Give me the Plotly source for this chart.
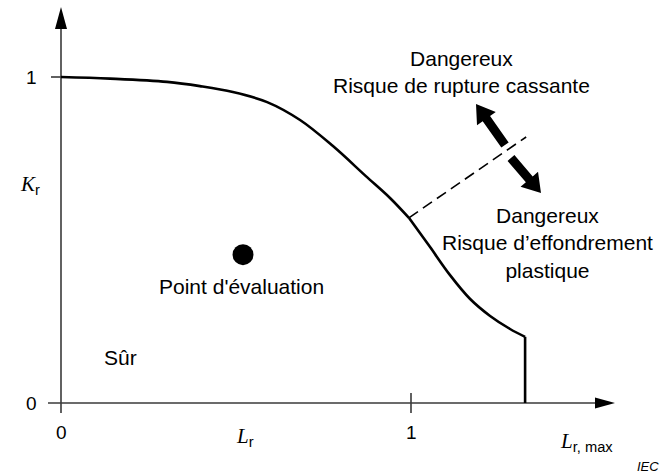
import numpy as np
import plotly.graph_objects as go

# Failure assessment curve (Lr, Kr) - upper branch up to Lr = 1
upper_lr = [0.0, 0.14, 0.303, 0.397, 0.491, 0.589, 0.683, 0.777, 0.871, 0.940, 0.994]
upper_kr = [1.0, 0.995, 0.985, 0.972, 0.954, 0.923, 0.868, 0.788, 0.696, 0.629, 0.568]
# lower branch, from Lr = 1 to the cut-off Lr,max
lower_lr = [0.994, 1.054, 1.111, 1.169, 1.226, 1.283, 1.326]
lower_kr = [0.568, 0.479, 0.393, 0.319, 0.267, 0.227, 0.203]
lr_max = 1.326

# Dashed extension of the brittle-fracture boundary
dash_lr = [0.994, 1.329]
dash_kr = [0.568, 0.816]

# Assessment point
point_lr = [0.52]
point_kr = [0.455]

# Axis tick values
tick_vals = [0, 1]
tick_text = ["0", "1"]

# Figure geometry (pixels per unit on each axis, axis origin offset)
W, H = 662, 475
PX_X, PX_Y = 350.0, 326.0
ORIG_X, ORIG_Y = 61.0, 403.0
x_range = [-ORIG_X / PX_X, (W - ORIG_X) / PX_X]
y_range = [-(H - ORIG_Y) / PX_Y, ORIG_Y / PX_Y]


def to_px(x, y):
    return ORIG_X + x * PX_X, ORIG_Y - y * PX_Y


def to_data(px, py):
    return (px - ORIG_X) / PX_X, (ORIG_Y - py) / PX_Y


def arrow_path(tail, tip, shaft_half, head_half, head_len):
    """Closed SVG path (in data units) for a filled block arrow."""
    tx, ty = to_px(*tail)
    hx, hy = to_px(*tip)
    d = np.array([hx - tx, hy - ty])
    L = np.hypot(*d)
    u = d / L
    n = np.array([-u[1], u[0]])
    t = np.array([tx, ty])
    b = t + u * (L - head_len)
    pts = [t + n * shaft_half, b + n * shaft_half, b + n * head_half, np.array([hx, hy]),
           b - n * head_half, b - n * shaft_half, t - n * shaft_half]
    pts = [to_data(*p) for p in pts]
    return "M" + " L".join(f"{x:.5f},{y:.5f}" for x, y in pts) + " Z"


fig = go.Figure()

axis_col = "#3a3a3a"
x_end = to_data(615, 0)[0]
y_end = to_data(0, 7)[1]
x_start = to_data(48, 0)[0]
y_start = to_data(0, 413)[1]

# Axis lines
fig.add_trace(go.Scatter(x=[x_start, x_end - 10 / PX_X], y=[0, 0], mode="lines",
                         line=dict(color=axis_col, width=1.6), hoverinfo="skip"))
fig.add_trace(go.Scatter(x=[0, 0], y=[y_start, y_end - 10 / PX_Y], mode="lines",
                         line=dict(color=axis_col, width=1.6), hoverinfo="skip"))
# Tick marks
tick_len_x = 10 / PX_Y
fig.add_trace(go.Scatter(x=[tick_vals[1], tick_vals[1]], y=[-tick_len_x, tick_len_x], mode="lines",
                         line=dict(color=axis_col, width=1.6), hoverinfo="skip"))
fig.add_trace(go.Scatter(x=[-10 / PX_X, 0], y=[tick_vals[1], tick_vals[1]], mode="lines",
                         line=dict(color=axis_col, width=1.6), hoverinfo="skip"))

# Curve
curve_line = dict(color="black", width=2.6, shape="spline", smoothing=1.0)
fig.add_trace(go.Scatter(x=upper_lr, y=upper_kr, mode="lines", line=curve_line, hoverinfo="skip"))
fig.add_trace(go.Scatter(x=lower_lr, y=lower_kr, mode="lines", line=curve_line, hoverinfo="skip"))
fig.add_trace(go.Scatter(x=[lr_max, lr_max], y=[lower_kr[-1], 0], mode="lines",
                         line=dict(color="black", width=2.6), hoverinfo="skip"))

# Dashed line
fig.add_trace(go.Scatter(x=dash_lr, y=dash_kr, mode="lines",
                         line=dict(color="black", width=1.6, dash="11px,6px"), hoverinfo="skip"))

# Assessment point
fig.add_trace(go.Scatter(x=point_lr, y=point_kr, mode="markers",
                         marker=dict(color="black", size=21), hoverinfo="skip"))

shapes = []
# Axis arrowheads
shapes.append(dict(type="path", path=arrow_path((x_end - 20 / PX_X, 0), (x_end, 0), 0, 5.5, 20),
                   fillcolor="black", line=dict(width=0), xref="x", yref="y"))
shapes.append(dict(type="path", path=arrow_path((0, y_end - 22 / PX_Y), (0, y_end), 0, 6, 22),
                   fillcolor="black", line=dict(width=0), xref="x", yref="y"))
# Double block arrow across the dashed line
shapes.append(dict(type="path", path=arrow_path(to_data(505, 145), to_data(476, 104), 4.5, 11.5, 18),
                   fillcolor="black", line=dict(width=0), xref="x", yref="y"))
shapes.append(dict(type="path", path=arrow_path(to_data(511, 158), to_data(541, 193), 4.5, 11.5, 18),
                   fillcolor="black", line=dict(width=0), xref="x", yref="y"))

SANS = "Liberation Sans, Arial, sans-serif"
SERIF = "Liberation Serif, Times New Roman, serif"
txt = dict(family=SANS, size=21, color="black")
tick_font = dict(family=SANS, size=19, color="black")


def note(x, y, text, font, **kw):
    fig.add_annotation(x=x, y=y, text=text, showarrow=False, font=font, xref="x", yref="y", **kw)


note(1.143, 1.014, "Dangereux<br>Risque de rupture cassante", txt)
note(1.389, 0.492, "Dangereux<br>Risque d\u2019effondrement<br>plastique", txt)
note(0.517, 0.357, "Point d'évaluation", txt)
note(0.171, 0.141, "Sûr", txt)

# Tick labels
note(-0.083, 0, tick_text[0], tick_font)
note(-0.083, 1, tick_text[1], tick_font)
note(0, -0.092, tick_text[0], tick_font)
note(1, -0.092, tick_text[1], tick_font)

# Axis titles
it = lambda s: f"<span style='font-family:{SERIF}'><i>{s}</i></span>"
note(-0.088, 0.669, it("K") + "<sub>r</sub>", dict(family=SANS, size=21, color="black"))
note(0.526, -0.104, it("L") + "<sub>r</sub>", dict(family=SANS, size=21, color="black"))
note(1.5, -0.12, it("L") + "<sub>r, max</sub>", dict(family=SANS, size=21, color="black"))
note(1.677, -0.196, "<i>IEC</i>", dict(family=SANS, size=13, color="black"))

fig.update_layout(
    width=W, height=H, margin=dict(l=0, r=0, t=0, b=0),
    paper_bgcolor="white", plot_bgcolor="white", showlegend=False,
    xaxis=dict(range=x_range, visible=False, fixedrange=True),
    yaxis=dict(range=y_range, visible=False, fixedrange=True),
    shapes=shapes,
)

fig.write_html("out.html")
